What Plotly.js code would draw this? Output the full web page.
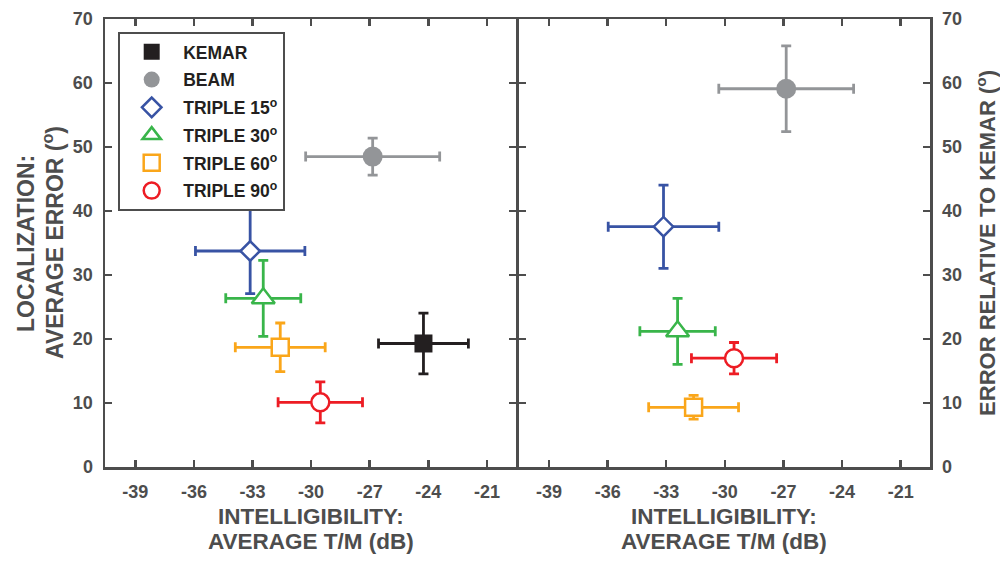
<!DOCTYPE html>
<html><head><meta charset="utf-8">
<script src="https://cdn.plot.ly/plotly-3.0.1.min.js"></script>
<style>body{margin:0;background:#fff;}</style>
</head><body><div id="chart" style="width:1000px;height:563px;"></div>
<script>
// ---- data ----
const seriesNames = ['KEMAR', 'BEAM', 'TRIPLE 15<sup>o</sup>', 'TRIPLE 30<sup>o</sup>', 'TRIPLE 60<sup>o</sup>', 'TRIPLE 90<sup>o</sup>'];
// Left panel: localization average error (deg) vs intelligibility T/M (dB)
const locX    = [-24.25, -26.85, -33.12, -32.45, -31.58, -29.53];
const locXErr = [2.3, 3.43, 2.8, 1.92, 2.3, 2.16];
const locY    = [19.3, 48.5, 33.75, 26.35, 18.7, 10.1];
const locYErr = [4.75, 2.9, 6.65, 5.95, 3.8, 3.2];
// Right panel: error relative to KEMAR (deg); KEMAR itself not shown
const relX    = [null, -26.86, -33.14, -32.42, -31.6, -29.53];
const relXErr = [null, 3.45, 2.83, 1.93, 2.3, 2.18];
const relY    = [null, 59.1, 37.55, 21.2, 9.33, 17.0];
const relYErr = [null, 6.7, 6.5, 5.15, 1.85, 2.45];
const xTicks = [-39, -36, -33, -30, -27, -24, -21];
const xTickLabels = ['-39', '-36', '-33', '-30', '-27', '-24', '-21'];
const yTicks = [0, 10, 20, 30, 40, 50, 60, 70];
const yTickLabels = ['0', '10', '20', '30', '40', '50', '60', '70'];

// ---- styles ----
const colors  = ['#231f20', '#939598', '#3853a4', '#39b54a', '#faa61a', '#ed1c24'];
const symbols = ['square', 'circle', 'diamond', 'triangle-up', 'square', 'circle'];
const filled  = [true, true, false, false, false, false];
const sizes   = [18, 20, 15, 20, 17, 18];

const gray = '#4d4d4d';
const FONT = 'Liberation Sans, Arial, sans-serif';

function mkTrace(i, xs, xe, ys, ye, xa, ya, showLeg) {
  return {
    type: 'scatter', mode: 'markers',
    x: [xs[i]], y: [ys[i]],
    xaxis: xa, yaxis: ya,
    name: seriesNames[i], legendgroup: 'g' + i, showlegend: showLeg,
    error_x: {type: 'data', array: [xe[i]], color: colors[i], thickness: 2.8, width: 5},
    error_y: {type: 'data', array: [ye[i]], color: colors[i], thickness: 2.8, width: 5},
    marker: {
      symbol: symbols[i], size: sizes[i],
      color: filled[i] ? colors[i] : '#ffffff',
      line: {color: colors[i], width: filled[i] ? 0 : 2.5}
    },
    hoverinfo: 'x+y'
  };
}

const traces = [];
for (let i = 0; i < seriesNames.length; i++) {
  traces.push(mkTrace(i, locX, locXErr, locY, locYErr, 'x', 'y', true));
}
for (let i = 0; i < seriesNames.length; i++) {
  if (relX[i] === null) continue;
  traces.push(mkTrace(i, relX, relXErr, relY, relYErr, 'x2', 'y2', false));
}

const axBase = {
  showgrid: false, zeroline: false, showline: true, linecolor: gray, linewidth: 2.5,
  ticks: 'inside', ticklen: 7, tickwidth: 2.5, tickcolor: gray, mirror: 'ticks',
  tickfont: {family: FONT, size: 18, color: gray, weight: 'bold'}
};

const xaxisCfg = Object.assign({}, axBase, {range: [-40.55, -19.5], tickmode: 'array', tickvals: xTicks, ticktext: xTickLabels, ticklabelstandoff: 7});
const yaxisCfg = Object.assign({}, axBase, {range: [0, 70], tickmode: 'array', tickvals: yTicks, ticktext: yTickLabels, ticklabelstandoff: 6});

const titleFont = {family: FONT, size: 22.5, color: gray, weight: 'bold'};
const yTitleFont = {family: FONT, size: 23, color: gray, weight: 'bold'};
const rTitleFont = {family: FONT, size: 22, color: gray, weight: 'bold'};

const annotations = [];
['x domain', 'x2 domain'].forEach(function (ref) {
  annotations.push({xref: ref, yref: 'paper', x: 0.5, y: -0.1094, xanchor: 'center', yanchor: 'middle',
    text: 'INTELLIGIBILITY:', showarrow: false, font: titleFont});
  annotations.push({xref: ref, yref: 'paper', x: 0.5, y: -0.1674, xanchor: 'center', yanchor: 'middle',
    text: 'AVERAGE T/M (dB)', showarrow: false, font: titleFont});
});
annotations.push({xref: 'paper', yref: 'paper', x: -0.0958, y: 0.5, xanchor: 'center', yanchor: 'middle',
  textangle: -90, text: 'LOCALIZATION:', showarrow: false, font: yTitleFont});
annotations.push({xref: 'paper', yref: 'paper', x: -0.063, y: 0.5, xanchor: 'center', yanchor: 'middle',
  textangle: -90, text: 'AVERAGE ERROR (<sup>o</sup>)', showarrow: false, font: yTitleFont});
annotations.push({xref: 'paper', yref: 'paper', x: 1.0678, y: 0.5, xanchor: 'center', yanchor: 'middle',
  textangle: -90, text: 'ERROR RELATIVE TO KEMAR (<sup>o</sup>)', showarrow: false, font: rTitleFont});

const layout = {
  width: 1000, height: 563,
  margin: {l: 105, r: 70, t: 19, b: 96},
  paper_bgcolor: '#ffffff', plot_bgcolor: '#ffffff',
  showlegend: true,
  xaxis: Object.assign({}, xaxisCfg, {domain: [0, 0.4985], anchor: 'y'}),
  xaxis2: Object.assign({}, xaxisCfg, {domain: [0.5015, 1], anchor: 'y2'}),
  yaxis: Object.assign({}, yaxisCfg, {anchor: 'x', side: 'left'}),
  yaxis2: Object.assign({}, yaxisCfg, {anchor: 'x2', side: 'right'}),
  legend: {
    x: 0.016, y: 0.971, xanchor: 'left', yanchor: 'top',
    bgcolor: '#ffffff', bordercolor: gray, borderwidth: 2,
    font: {family: FONT, size: 17.5, color: '#231f20', weight: 'bold'},
    itemwidth: 53, tracegroupgap: 2, traceorder: 'grouped'
  },
  annotations: annotations
};

Plotly.newPlot('chart', traces, layout, {displayModeBar: false, staticPlot: true});
</script>
</body></html>
